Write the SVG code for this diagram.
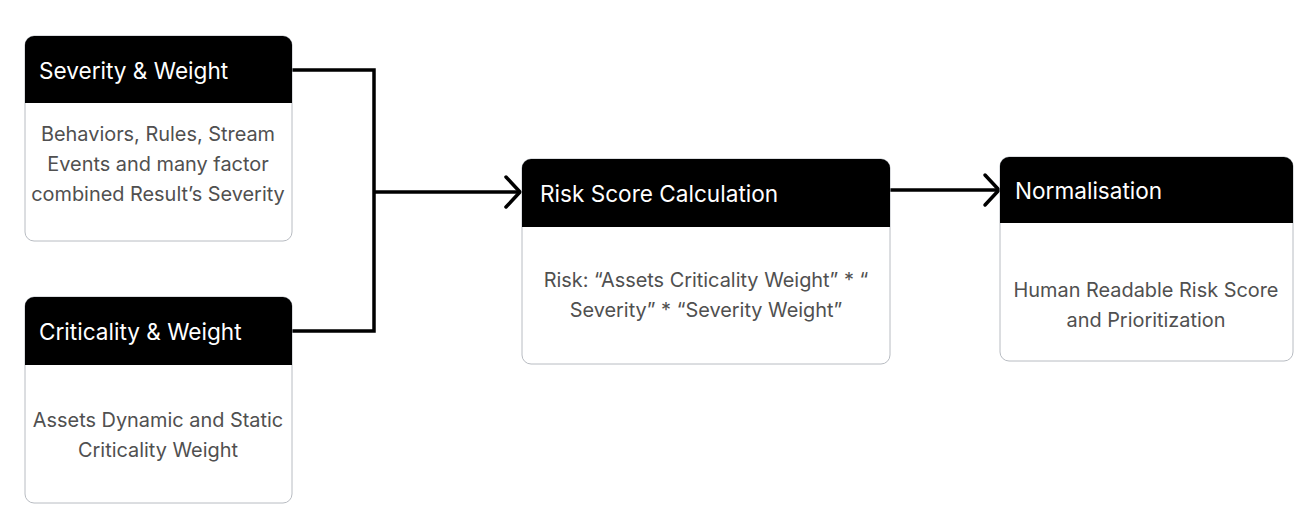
<svg xmlns="http://www.w3.org/2000/svg" width="1313" height="528" viewBox="0 0 1313 528">
<style>
.box{fill:#ffffff;stroke:#b8bcc2;stroke-width:1}
.hdr{fill:#000000}
.ht{font-family:Inter,"Noto Sans",sans-serif;font-size:22.6px;fill:#ffffff}
.bt{font-family:Inter,"Noto Sans",sans-serif;font-size:19.9px;fill:#505050;text-anchor:middle}
.con{fill:none;stroke:#000000;stroke-width:3.5}
.ah{fill:none;stroke:#000000;stroke-width:3.5;stroke-linecap:round;stroke-linejoin:round}
</style>
<rect width="1313" height="528" fill="#ffffff"/>
<g id="connectors">
<polyline class="con" points="292,70 374,70 374,331 292,331"/>
<line class="con" x1="374" y1="192" x2="519" y2="192"/>
<polyline class="ah" points="506,177 520,192 506,207"/>
<line class="con" x1="890" y1="190" x2="998" y2="190"/>
<polyline class="ah" points="985,175 999,190 985,205"/>
</g>
<g id="n1">
<rect class="box" x="25" y="36" width="267" height="205" rx="9"/>
<path class="hdr" d="M25,103 V45 a9,9 0 0 1 9,-9 H283 a9,9 0 0 1 9,9 V103 Z"/>
<text class="ht" x="39" y="79">Severity &amp; Weight</text>
<text class="bt" x="158" y="141">Behaviors, Rules, Stream</text>
<text class="bt" x="158" y="171">Events and many factor</text>
<text class="bt" x="158" y="201">combined Result’s Severity</text>
</g>
<g id="n2">
<rect class="box" x="25" y="297" width="267" height="206" rx="9"/>
<path class="hdr" d="M25,365 V306 a9,9 0 0 1 9,-9 H283 a9,9 0 0 1 9,9 V365 Z"/>
<text class="ht" x="39" y="340">Criticality &amp; Weight</text>
<text class="bt" x="158" y="427">Assets Dynamic and Static</text>
<text class="bt" x="158" y="457">Criticality Weight</text>
</g>
<g id="n3">
<rect class="box" x="522" y="159" width="368" height="205" rx="9"/>
<path class="hdr" d="M522,227 V168 a9,9 0 0 1 9,-9 H881 a9,9 0 0 1 9,9 V227 Z"/>
<text class="ht" x="540" y="202">Risk Score Calculation</text>
<text class="bt" x="706" y="287">Risk: “Assets Criticality Weight” * “</text>
<text class="bt" x="706" y="317">Severity” * “Severity Weight”</text>
</g>
<g id="n4">
<rect class="box" x="1000" y="157" width="293" height="204" rx="9"/>
<path class="hdr" d="M1000,223 V166 a9,9 0 0 1 9,-9 H1284 a9,9 0 0 1 9,9 V223 Z"/>
<text class="ht" x="1015" y="199">Normalisation</text>
<text class="bt" x="1146" y="297">Human Readable Risk Score</text>
<text class="bt" x="1146" y="327">and Prioritization</text>
</g>
</svg>
